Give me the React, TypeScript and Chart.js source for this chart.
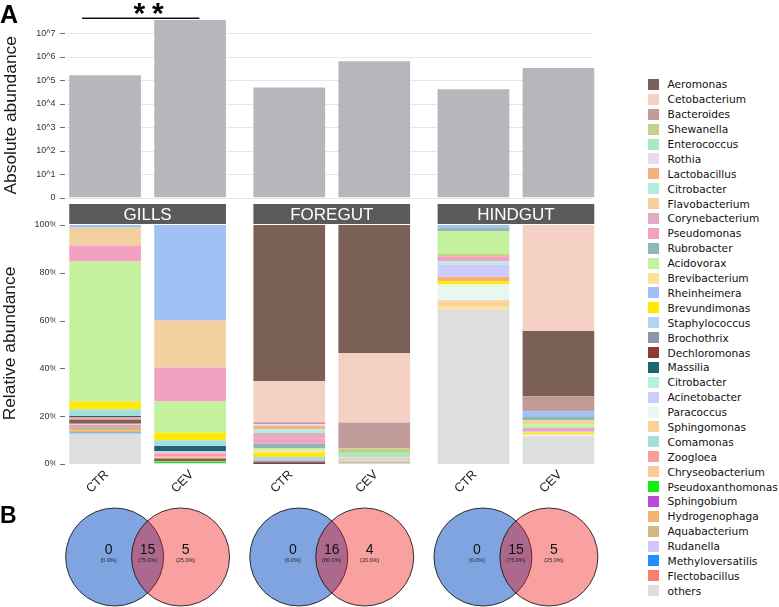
import React, { useEffect, useRef } from 'react';
import { Chart, registerables } from 'chart.js';

Chart.register(...registerables);

// ---- data ----
const FACETS = ['GILLS', 'FOREGUT', 'HINDGUT'];
const GROUPS = ['CTR', 'CEV'];

// absolute abundance (copies), one value per facet
const ABS_CTR = [1.6e5, 4.8e4, 4.1e4];
const ABS_CEV = [3.6e7, 6.3e5, 3.3e5];
const ABS_TICK_VALUES = [1, 1e1, 1e2, 1e3, 1e4, 1e5, 1e6, 1e7];
const ABS_TICK_LABELS = ['0', '10^1', '10^2', '10^3', '10^4', '10^5', '10^6', '10^7'];
const ABS_MAX = 4e7;
const SIGNIFICANCE = '**';

const REL_TICKS = [0, 20, 40, 60, 80, 100];

const GENERA = [
  'Aeromonas', 'Cetobacterium', 'Bacteroides', 'Shewanella', 'Enterococcus', 'Rothia',
  'Lactobacillus', 'Citrobacter', 'Flavobacterium', 'Corynebacterium', 'Pseudomonas',
  'Rubrobacter', 'Acidovorax', 'Brevibacterium', 'Rheinheimera', 'Brevundimonas',
  'Staphylococcus', 'Brochothrix', 'Dechloromonas', 'Massilia', 'Citrobacter',
  'Acinetobacter', 'Paracoccus', 'Sphingomonas', 'Comamonas', 'Zoogloea',
  'Chryseobacterium', 'Pseudoxanthomonas', 'Sphingobium', 'Hydrogenophaga',
  'Aquabacterium', 'Rudanella', 'Methyloversatilis', 'Flectobacillus', 'others',
];
const GENUS_COLORS = [
  '#7b6155', '#f5d0c5', '#c09b99', '#c4d08e', '#a9e9c2', '#e9daf1',
  '#f7b07d', '#b3efd9', '#f2d19e', '#e2aac3', '#f3a1c1',
  '#8fb6b9', '#c3f19d', '#f7e39e', '#a1c1f5', '#ffea00',
  '#b1d5f1', '#8a98a5', '#8e3b31', '#1f6571', '#b3f0dd',
  '#cdccfc', '#e9f8ef', '#f9d199', '#a1e1dd', '#f99d9d',
  '#fdc999', '#12f012', '#b94bd9', '#f9b171',
  '#d1b981', '#d1c5f9', '#1e90ff', '#f97f71', '#dedede',
];

// relative abundance (%), segments listed top to bottom
const GILLS_CTR: [string, number][] = [
  ['Rheinheimera', 1.1], ['Flavobacterium', 7.5], ['Pseudomonas', 6.7], ['Acidovorax', 58.6],
  ['Brevundimonas', 3.2], ['Comamonas', 2.8], ['Massilia', 0.5], ['Zoogloea', 1.1],
  ['Aeromonas', 1.7], ['Cetobacterium', 0.7], ['Sphingobium', 0.4], ['Aquabacterium', 1.8],
  ['Hydrogenophaga', 0.7], ['Methyloversatilis', 0.4], ['others', 12.8],
];
const GILLS_CEV: [string, number][] = [
  ['Rheinheimera', 40.0], ['Flavobacterium', 19.6], ['Pseudomonas', 14.3], ['Acidovorax', 13.0],
  ['Brevundimonas', 3.2], ['Comamonas', 2.4], ['Massilia', 2.1], ['Acinetobacter', 1.0],
  ['Zoogloea', 1.4], ['Chryseobacterium', 0.7], ['Aeromonas', 1.0], ['Aquabacterium', 0.5],
  ['Pseudoxanthomonas', 0.4], ['others', 0.4],
];
const FOREGUT_CTR: [string, number][] = [
  ['Aeromonas', 65.3], ['Cetobacterium', 17.2], ['Bacteroides', 0.8], ['Rothia', 0.8],
  ['Lactobacillus', 1.4], ['Citrobacter', 1.5], ['Corynebacterium', 2.4], ['Pseudomonas', 2.1],
  ['Rubrobacter', 1.8], ['Acidovorax', 1.0], ['Brevibacterium', 1.1], ['Brevundimonas', 1.7],
  ['Staphylococcus', 1.5], ['Brochothrix', 0.7], ['Dechloromonas', 0.7],
];
const FOREGUT_CEV: [string, number][] = [
  ['Aeromonas', 53.6], ['Cetobacterium', 29.0], ['Bacteroides', 10.8], ['Shewanella', 2.1],
  ['Enterococcus', 1.8], ['Rothia', 0.4], ['Lactobacillus', 0.5], ['Citrobacter', 0.4],
  ['Flavobacterium', 0.3], ['Corynebacterium', 0.3], ['Pseudomonas', 0.3], ['Rubrobacter', 0.3],
  ['Acidovorax', 0.2],
];
const HINDGUT_CTR: [string, number][] = [
  ['Rheinheimera', 1.0], ['Rubrobacter', 1.5], ['Acidovorax', 9.6], ['Shewanella', 1.0],
  ['Pseudomonas', 2.1], ['Citrobacter', 1.3], ['Acinetobacter', 5.2], ['Lactobacillus', 1.8],
  ['Brevundimonas', 1.4], ['Paracoccus', 6.6], ['Chryseobacterium', 0.4], ['Sphingomonas', 2.2],
  ['Brevibacterium', 1.4], ['others', 64.5],
];
const HINDGUT_CEV: [string, number][] = [
  ['Cetobacterium', 44.4], ['Aeromonas', 27.3], ['Bacteroides', 6.3], ['Rheinheimera', 2.0],
  ['Rubrobacter', 1.7], ['Flavobacterium', 1.7], ['Acidovorax', 1.5], ['Pseudomonas', 1.3],
  ['Acinetobacter', 0.6], ['Brevundimonas', 0.6], ['Brevibacterium', 0.5], ['Paracoccus', 0.5],
  ['others', 11.6],
];
const REL_BARS = [[GILLS_CTR, GILLS_CEV], [FOREGUT_CTR, FOREGUT_CEV], [HINDGUT_CTR, HINDGUT_CEV]];

// shared genera between CTR and CEV, per facet
const VENN_CTR_ONLY = [0, 0, 0];
const VENN_SHARED = [15, 16, 15];
const VENN_CEV_ONLY = [5, 4, 5];

// ---- layout ----
const CANVAS_W = 608;
const AXIS_W = 55.5;
const CAT_PCT = 0.923;
const BAR_PCT = 0.8435;
const TOP_H = 203;
const REL_TOP = 203;
const REL_H = 295;
const VENN_TOP = 500;
const VENN_H = 107;
const VENN_SHIFT = 0.179;
const VENN_RADIUS = 49;

const SANS = '"Liberation Sans", Arial, Helvetica, sans-serif';
const BAR_GRAY = '#b8b6bc';

const colorOf = (g: string) => GENUS_COLORS[GENERA.indexOf(g)];

function groupExtents(chart: any) {
  const out: Record<string, { l: number; r: number; c: number }> = {};
  chart.data.datasets.forEach((ds: any, di: number) => {
    const meta = chart.getDatasetMeta(di);
    ds.data.forEach((v: any, f: number) => {
      if (v == null) return;
      const el: any = meta.data[f];
      const l = el.x - el.width / 2;
      const r = el.x + el.width / 2;
      const key = f + '|' + ds.stack;
      const e = out[key];
      if (!e) out[key] = { l, r, c: el.x };
      else {
        e.l = Math.min(e.l, l);
        e.r = Math.max(e.r, r);
        e.c = (e.l + e.r) / 2;
      }
    });
  });
  return out;
}

function tickDashes(ctx: CanvasRenderingContext2D, x0: number, ys: number[]) {
  ctx.save();
  ctx.strokeStyle = '#6a6a6a';
  ctx.lineWidth = 1;
  ys.forEach((y) => {
    const py = Math.round(y) + 0.5;
    ctx.beginPath();
    ctx.moveTo(x0 + 4.5, py);
    ctx.lineTo(x0 + 9.5, py);
    ctx.stroke();
  });
  ctx.restore();
}

function verticalTitle(ctx: CanvasRenderingContext2D, text: string, x: number, y: number) {
  ctx.save();
  ctx.translate(x, y);
  ctx.rotate(-Math.PI / 2);
  ctx.font = `17.4px ${SANS}`;
  ctx.fillStyle = '#1a1a1a';
  ctx.textAlign = 'center';
  ctx.textBaseline = 'middle';
  ctx.fillText(text, 0, 0);
  ctx.restore();
}

const absDecor = {
  id: 'absDecor',
  beforeDatasetsDraw(chart: any) {
    const { ctx, chartArea, scales } = chart;
    const ext = groupExtents(chart);
    const left = ext['0|CTR'].l - 1.5;
    const right = ext[`${FACETS.length - 1}|CEV`].r - 2.5;
    const ys = ABS_TICK_VALUES.map((v) => scales.y.getPixelForValue(v));
    ctx.save();
    ctx.strokeStyle = '#e6e6e6';
    ctx.lineWidth = 1;
    ys.forEach((y) => {
      const py = Math.round(y) + 0.5;
      ctx.beginPath();
      ctx.moveTo(left, py);
      ctx.lineTo(right, py);
      ctx.stroke();
    });
    ctx.restore();
    tickDashes(ctx, chartArea.left, ys);
  },
  afterDraw(chart: any) {
    const { ctx, chartArea } = chart;
    const ext = groupExtents(chart);
    // panel letter
    ctx.save();
    ctx.fillStyle = '#000';
    ctx.font = `bold 25px ${SANS}`;
    ctx.textAlign = 'left';
    ctx.textBaseline = 'alphabetic';
    ctx.fillText('A', 0, 23);
    // significance bracket over the gills pair
    const mid = (ext['0|CTR'].l + ext['0|CEV'].r) / 2;
    ctx.strokeStyle = '#111';
    ctx.lineWidth = 1.6;
    ctx.beginPath();
    ctx.moveTo(mid - 65.5, 18.3);
    ctx.lineTo(mid + 51.8, 18.3);
    ctx.stroke();
    ctx.font = `bold 30px ${SANS}`;
    (ctx as any).letterSpacing = '7px';
    const w = ctx.measureText(SIGNIFICANCE).width - 7;
    ctx.textAlign = 'left';
    ctx.fillText(SIGNIFICANCE, mid + 1 - w / 2, 23.2);
    ctx.restore();
    verticalTitle(ctx, 'Absolute abundance', 11, (chartArea.top + chartArea.bottom) / 2 + 7);
  },
};

const relDecor = {
  id: 'relDecor',
  afterDraw(chart: any) {
    const { ctx, chartArea, scales } = chart;
    const ext = groupExtents(chart);
    tickDashes(ctx, chartArea.left, REL_TICKS.map((v) => scales.y.getPixelForValue(v)));
    ctx.save();
    FACETS.forEach((name, f) => {
      const l = ext[f + '|CTR'].l;
      const r = ext[f + '|CEV'].r;
      ctx.fillStyle = '#5a5a5a';
      ctx.fillRect(l, 1, r - l, 20);
      ctx.fillStyle = '#ffffff';
      ctx.font = `17px ${SANS}`;
      ctx.textAlign = 'center';
      ctx.textBaseline = 'alphabetic';
      ctx.fillText(name, (l + r) / 2, 17.2);
      GROUPS.forEach((g) => {
        const c = ext[f + '|' + g].c;
        ctx.save();
        ctx.translate(c - 2.8, chartArea.bottom + 4.3);
        ctx.rotate(-Math.PI / 4);
        ctx.font = `12.5px ${SANS}`;
        ctx.fillStyle = '#1a1a1a';
        ctx.textAlign = 'right';
        ctx.textBaseline = 'top';
        ctx.fillText(g, 0, 0);
        ctx.restore();
      });
    });
    ctx.restore();
    verticalTitle(ctx, 'Relative abundance', 10, (chartArea.top + chartArea.bottom) / 2 - 1);
  },
};

const vennDecor = {
  id: 'vennDecor',
  afterDatasetsDraw(chart: any) {
    const { ctx } = chart;
    const left = chart.getDatasetMeta(0).data;
    const right = chart.getDatasetMeta(1).data;
    ctx.save();
    ctx.fillStyle = '#000';
    ctx.font = `bold 23px ${SANS}`;
    ctx.textAlign = 'left';
    ctx.textBaseline = 'alphabetic';
    ctx.fillText('B', 0, 23.3);
    FACETS.forEach((_, i) => {
      const total = VENN_CTR_ONLY[i] + VENN_SHARED[i] + VENN_CEV_ONLY[i];
      const cy = left[i].y;
      const spots: [number, number][] = [
        [left[i].x - 6, VENN_CTR_ONLY[i]],
        [(left[i].x + right[i].x) / 2, VENN_SHARED[i]],
        [right[i].x + 5, VENN_CEV_ONLY[i]],
      ];
      spots.forEach(([x, n]) => {
        ctx.fillStyle = '#111';
        ctx.textAlign = 'center';
        ctx.textBaseline = 'middle';
        ctx.font = `14px ${SANS}`;
        ctx.fillText(String(n), x, cy - 7.3);
        ctx.font = `5.5px ${SANS}`;
        ctx.fillStyle = '#222';
        ctx.fillText(`(${((n / total) * 100).toFixed(1)}%)`, x, cy + 3.8);
      });
    });
    ctx.restore();
  },
};

function buildRelDatasets() {
  const sets: any[] = [];
  REL_BARS.forEach((pair, f) => {
    pair.forEach((segments, g) => {
      [...segments].reverse().forEach(([genus, value]) => {
        sets.push({
          label: genus,
          stack: GROUPS[g],
          data: FACETS.map((_, i) => (i === f ? value : null)),
          backgroundColor: colorOf(genus),
          borderWidth: 0,
          categoryPercentage: CAT_PCT,
          barPercentage: BAR_PCT,
        });
      });
    });
  });
  return sets;
}

const tickFont = { family: SANS, size: 9 };

export default function App() {
  const absRef = useRef<HTMLCanvasElement>(null);
  const relRef = useRef<HTMLCanvasElement>(null);
  const vennRef = useRef<HTMLCanvasElement>(null);

  useEffect(() => {
    const abs = new Chart(absRef.current!, {
      type: 'bar',
      data: {
        labels: FACETS,
        datasets: [
          { label: 'CTR', stack: 'CTR', data: ABS_CTR, backgroundColor: BAR_GRAY, categoryPercentage: CAT_PCT, barPercentage: BAR_PCT },
          { label: 'CEV', stack: 'CEV', data: ABS_CEV, backgroundColor: BAR_GRAY, categoryPercentage: CAT_PCT, barPercentage: BAR_PCT },
        ] as any,
      },
      options: {
        responsive: false,
        animation: false,
        events: [],
        layout: { padding: { top: 19, bottom: 1, left: 0, right: 0 } },
        plugins: { legend: { display: false }, tooltip: { enabled: false } },
        scales: {
          x: { display: false },
          y: {
            type: 'logarithmic',
            min: 1,
            max: ABS_MAX,
            afterBuildTicks: (scale: any) => {
              scale.ticks = ABS_TICK_VALUES.map((value) => ({ value }));
            },
            afterFit: (scale: any) => {
              scale.width = AXIS_W;
            },
            ticks: {
              padding: 0,
              font: tickFont,
              color: '#333',
              callback: (_v: any, i: number) => ABS_TICK_LABELS[i],
            },
            grid: { display: false, drawTicks: false },
            border: { display: false },
          },
        },
      } as any,
      plugins: [absDecor],
    });

    const rel = new Chart(relRef.current!, {
      type: 'bar',
      data: { labels: FACETS, datasets: buildRelDatasets() },
      options: {
        responsive: false,
        animation: false,
        events: [],
        layout: { padding: { top: 22, bottom: 34, left: 0, right: 0 } },
        plugins: { legend: { display: false }, tooltip: { enabled: false } },
        scales: {
          x: { display: false },
          y: {
            stacked: true,
            min: 0,
            max: 100,
            afterBuildTicks: (scale: any) => {
              scale.ticks = REL_TICKS.map((value) => ({ value }));
            },
            afterFit: (scale: any) => {
              scale.width = AXIS_W;
            },
            ticks: {
              padding: -2,
              font: tickFont,
              color: '#333',
              callback: (v: any) => `${v}%`,
            },
            grid: { display: false, drawTicks: false },
            border: { display: false },
          },
        },
      } as any,
      plugins: [relDecor],
    });

    const venn = new Chart(vennRef.current!, {
      type: 'bubble',
      data: {
        datasets: [
          {
            label: 'CTR',
            order: 1,
            data: FACETS.map((_, i) => ({ x: i - VENN_SHIFT, y: 0, r: VENN_RADIUS })),
            backgroundColor: 'rgba(0,73,193,0.5)',
            borderColor: 'rgba(20,20,20,0.85)',
            borderWidth: 1,
            clip: false,
          },
          {
            label: 'CEV',
            order: 0,
            data: FACETS.map((_, i) => ({ x: i + VENN_SHIFT, y: 0, r: VENN_RADIUS })),
            backgroundColor: 'rgba(240,18,18,0.4)',
            borderColor: 'rgba(20,20,20,0.85)',
            borderWidth: 1,
            clip: false,
          },
        ] as any,
      },
      options: {
        responsive: false,
        animation: false,
        events: [],
        layout: { autoPadding: false, padding: { top: 7, bottom: 0, left: AXIS_W, right: 0 } },
        plugins: { legend: { display: false }, tooltip: { enabled: false } },
        scales: {
          x: { type: 'linear', min: -0.5, max: FACETS.length - 0.5, display: false },
          y: { type: 'linear', min: -1, max: 1, display: false },
        },
      } as any,
      plugins: [vennDecor],
    });

    return () => {
      abs.destroy();
      rel.destroy();
      venn.destroy();
    };
  }, []);

  return (
    <div
      style={{
        position: 'absolute',
        left: 0,
        top: 0,
        width: 779,
        height: 607,
        overflow: 'hidden',
        background: '#ffffff',
      }}
    >
      <canvas ref={absRef} width={CANVAS_W} height={TOP_H} style={{ position: 'absolute', left: 0, top: 0 }} />
      <canvas ref={relRef} width={CANVAS_W} height={REL_H} style={{ position: 'absolute', left: 0, top: REL_TOP }} />
      <canvas ref={vennRef} width={CANVAS_W} height={VENN_H} style={{ position: 'absolute', left: 0, top: VENN_TOP }} />
      <div style={{ position: 'absolute', left: 648, top: 77.05 }}>
        {GENERA.map((g, i) => (
          <div
            key={i}
            style={{
              position: 'absolute',
              left: 0,
              top: i * 14.89,
              height: 14.89,
              display: 'flex',
              alignItems: 'center',
              whiteSpace: 'nowrap',
            }}
          >
            <span style={{ width: 11, height: 11, background: GENUS_COLORS[i], display: 'inline-block' }} />
            <span
              style={{
                marginLeft: 8.5,
                fontFamily: '"DejaVu Sans", sans-serif',
                fontSize: 10.6,
                color: '#111',
                lineHeight: '14px',
              }}
            >
              {g}
            </span>
          </div>
        ))}
      </div>
    </div>
  );
}
